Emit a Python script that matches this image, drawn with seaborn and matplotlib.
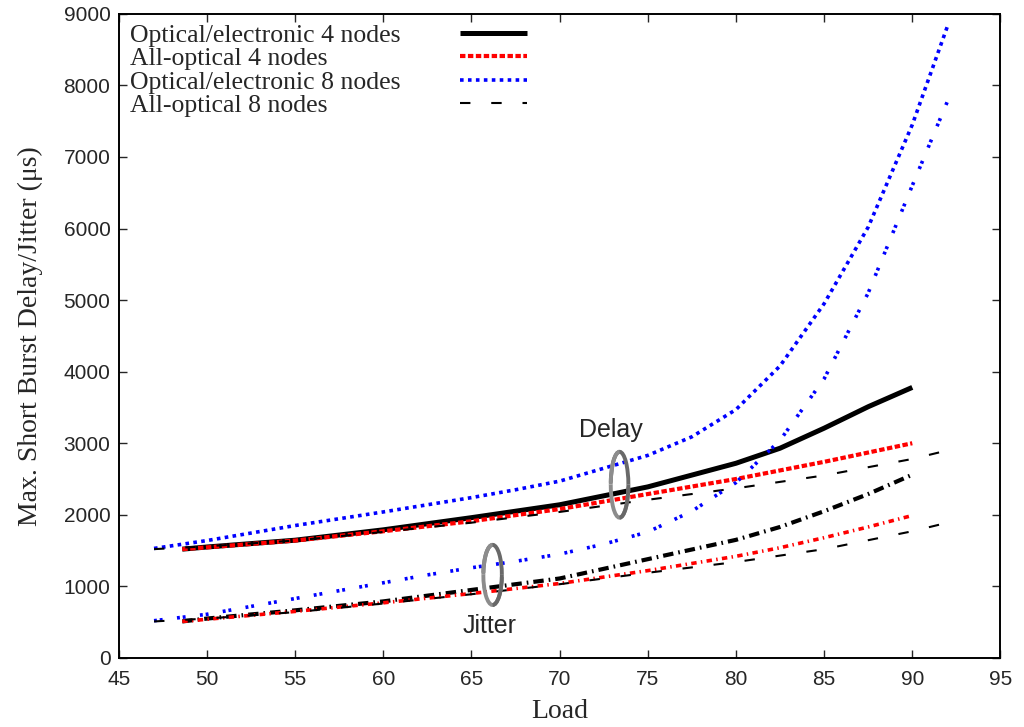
import numpy as np
import pandas as pd
import matplotlib
matplotlib.use("Agg")
import matplotlib.pyplot as plt
from matplotlib.patches import Arc
import seaborn as sns

# =====================================
# DATA
# =====================================

load_4 = [48.6, 50, 55, 60, 65, 70, 75, 80, 82.5, 85, 87.5, 90]
load_8 = [47, 50, 55, 60, 65, 70, 75, 80, 85, 90, 92]
load_8_blue = [47, 50, 55, 60, 62.5, 65, 67.5, 70, 72.5, 75, 77.5, 80,
               82.5, 85, 87.5, 90, 92]

# delay curves
oe4_delay = [1520, 1550, 1645, 1790, 1960, 2140, 2390, 2720, 2930, 3210, 3510, 3780]
ao4_delay = [1520, 1545, 1640, 1770, 1910, 2080, 2290, 2500, 2620, 2740, 2870, 3000]
oe8_delay = [1530, 1640, 1850, 2040, 2140, 2240, 2350, 2470, 2650, 2830, 3090,
             3470, 4080, 4950, 6020, 7450, 8830]
ao8_delay = [1520, 1560, 1640, 1760, 1890, 2040, 2210, 2370, 2550, 2780, 2900]

# jitter curves
oe4_jitter = [510, 550, 665, 790, 950, 1110, 1380, 1650, 1830, 2050, 2290, 2560]
ao4_jitter = [510, 540, 650, 770, 900, 1040, 1220, 1420, 1540, 1680, 1830, 1990]
oe8_jitter = [520, 610, 830, 1050, 1160, 1260, 1350, 1450, 1590, 1760, 2050,
              2450, 3040, 3900, 5100, 6600, 7780]
ao8_jitter = [510, 550, 640, 760, 890, 1030, 1190, 1340, 1520, 1770, 1890]

labels = [
    "Optical/electronic 4 nodes",
    "All-optical 4 nodes",
    "Optical/electronic 8 nodes",
    "All-optical 8 nodes",
]

x_ticks = [45, 50, 55, 60, 65, 70, 75, 80, 85, 90, 95]
y_ticks = [0, 1000, 2000, 3000, 4000, 5000, 6000, 7000, 8000, 9000]

# =====================================
# FIGURE
# =====================================

sns.set_style("ticks")

fig = plt.figure(figsize=(10.24, 7.27), dpi=100)
ax = fig.add_axes([0.116, 0.095, 0.861, 0.886])

# delay lines (these go in the legend)
sns.lineplot(x=load_4, y=oe4_delay, ax=ax, color="black", linewidth=3.6,
             solid_capstyle="butt")
sns.lineplot(x=load_4, y=ao4_delay, ax=ax, color="#ff0000", linewidth=3.0,
             linestyle=(0, (1.3, 0.6)))
sns.lineplot(x=load_8_blue, y=oe8_delay, ax=ax, color="#0000ff", linewidth=2.6,
             linestyle=(0, (1.0, 1.2)))
sns.lineplot(x=load_8, y=ao8_delay, ax=ax, color="black", linewidth=1.5,
             linestyle=(0, (5, 10)))
delay_lines = list(ax.get_lines())

# jitter lines
sns.lineplot(x=load_4, y=oe4_jitter, ax=ax, color="black", linewidth=3.0,
             linestyle=(0, (2.5, 1.2, 0.4, 1.2)))
sns.lineplot(x=load_4, y=ao4_jitter, ax=ax, color="#ff0000", linewidth=2.6,
             linestyle=(0, (1.5, 1.2, 0.4, 1.2)))
sns.lineplot(x=load_8_blue, y=oe8_jitter, ax=ax, color="#0000ff", linewidth=2.6,
             linestyle=(0, (0.8, 0.8, 0.8, 4.0)))
sns.lineplot(x=load_8, y=ao8_jitter, ax=ax, color="black", linewidth=1.5,
             linestyle=(0, (5, 10)))

# =====================================
# ELLIPSE MARKERS + TEXT
# =====================================

def shaded_ring(cx, cy, w, h):
    # left side light grey, right side dark
    steps = 16
    for i in range(steps):
        t0 = i * 360 / steps
        t1 = t0 + 360 / steps + 1
        ang = np.deg2rad((t0 + t1) / 2)
        shade = 0.12 + 0.72 * (1 - np.cos(ang)) / 2
        ax.add_patch(Arc((cx, cy), w, h, theta1=t0, theta2=t1,
                         color=str(shade), linewidth=2.8, zorder=5))

shaded_ring(73.4, 2420, 1.0, 920)
shaded_ring(66.2, 1160, 1.05, 840)

ax.text(72.9, 3190, "Delay", fontsize=18, family="Liberation Sans",
        ha="center", va="center")
ax.text(66.0, 450, "Jitter", fontsize=18, family="Liberation Sans",
        ha="center", va="center")

# =====================================
# AXES
# =====================================

ax.set_xlim(45, 95)
ax.set_ylim(0, 9000)
ax.set_xticks(x_ticks)
ax.set_yticks(y_ticks)

ax.tick_params(direction="in", top=True, right=True, length=6, width=1,
               labelsize=15)
ax.tick_params(axis="x", pad=9)
ax.tick_params(axis="y", pad=6)
for lab in ax.get_xticklabels() + ax.get_yticklabels():
    lab.set_family("Liberation Sans")

for side in ax.spines.values():
    side.set_linewidth(1.4)
    side.set_color("black")

ax.set_xlabel("Load", fontsize=20, family="Liberation Serif", labelpad=7)
ax.set_ylabel("Max. Short Burst Delay/Jitter (\u03bcs)", fontsize=20,
              family="Liberation Serif", labelpad=15)

# legend: text column on the left, line samples further right
legend_font = {"family": "Liberation Serif", "size": 18.5}

text_legend = ax.legend(delay_lines, labels, loc="upper left", frameon=False,
                        prop=legend_font, handlelength=0, handletextpad=0,
                        labelspacing=0.01, borderpad=0, borderaxespad=0,
                        bbox_to_anchor=(0.0125, 0.984))
for h in text_legend.legend_handles:
    h.set_visible(False)
ax.add_artist(text_legend)

line_legend = ax.legend(delay_lines, labels, loc="upper left", frameon=False,
                        prop=legend_font, handlelength=2.6, handletextpad=0,
                        labelspacing=0.01, borderpad=0, borderaxespad=0,
                        bbox_to_anchor=(0.387, 0.984))
for t in line_legend.get_texts():
    t.set_color("none")

plt.savefig("out.png", dpi=100)
plt.close()
